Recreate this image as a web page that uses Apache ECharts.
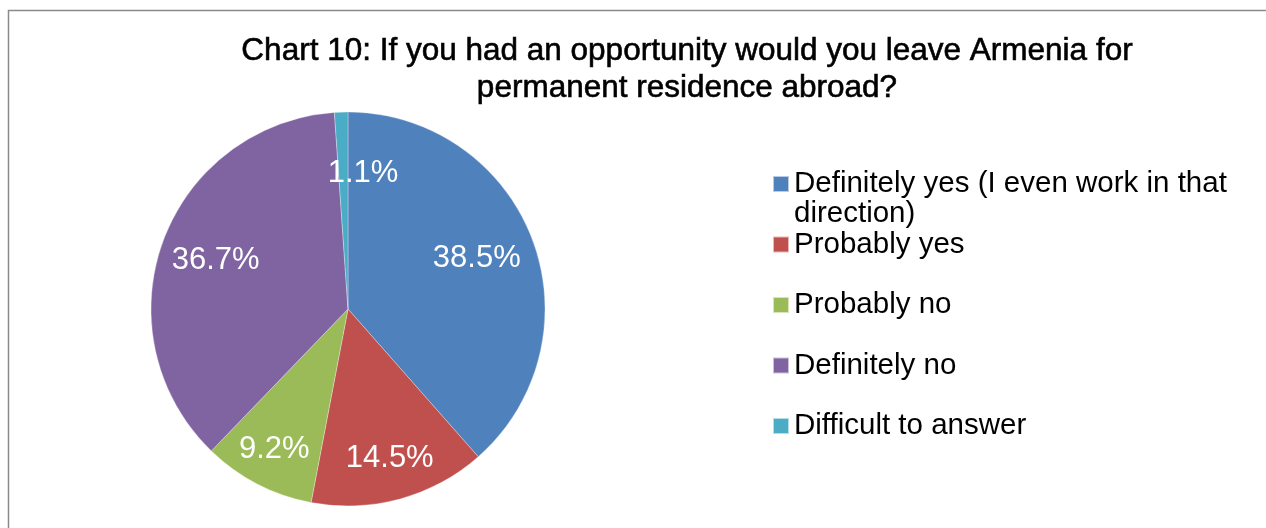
<!DOCTYPE html>
<html>
<head>
<meta charset="utf-8">
<script src="https://cdn.jsdelivr.net/npm/echarts@6/dist/echarts.min.js"></script>
<style>
  html, body { margin: 0; padding: 0; background: #fff; }
  #chart { width: 1266px; height: 528px; }
</style>
</head>
<body>
<div id="chart"></div>
<script>
// Survey answers and their shares (%)
const answers = [
  'Definitely yes (I even work in that direction)',
  'Probably yes',
  'Probably no',
  'Definitely no',
  'Difficult to answer'
];
const shares = [38.5, 14.5, 9.2, 36.7, 1.1];
const sliceColors = ['#4f81bd', '#c0504d', '#9bbb59', '#8064a2', '#4bacc6'];

// Small nudges so the percentage labels sit where they read best
const labelNudge = [[-5, 0], [4, 12], [-8, 13], [2, 0], [20, 7]];

const FONT = '"Liberation Sans", Arial, sans-serif';
const CENTER = [348, 309];
const R = 197;

const pieData = answers.map((name, i) => ({
  name: name,
  value: shares[i],
  itemStyle: { color: sliceColors[i] }
}));

// Transparent copy of the pie whose band centre sets the label radius
const labelData = answers.map((name, i) => ({
  name: name,
  value: shares[i],
  label: { offset: labelNudge[i] }
}));

const chart = echarts.init(document.getElementById('chart'), null, { renderer: 'canvas' });

chart.setOption({
  animation: false,
  backgroundColor: '#ffffff',
  title: {
    text: 'Chart 10: If you had an opportunity would you leave Armenia for\npermanent residence abroad?',
    left: 682,
    textAlign: 'center',
    top: 28,
    textStyle: {
      fontFamily: FONT,
      fontSize: 31.5,
      fontWeight: 'normal',
      color: '#000',
      textBorderColor: '#000',
      textBorderWidth: 0.6,
      lineHeight: 37
    }
  },
  legend: {
    orient: 'vertical',
    left: 767,
    top: 163,
    itemWidth: 16,
    itemHeight: 16,
    itemGap: 28.5,
    icon: 'rect',
    selectedMode: false,
    data: answers,
    formatter: function (name) {
      return name === answers[0] ? 'Definitely yes (I even work in that' : name;
    },
    textStyle: {
      fontFamily: FONT,
      fontSize: 29.5,
      color: '#000',
      lineHeight: 32
    }
  },
  graphic: [
    {
      type: 'rect',
      silent: true,
      shape: { x: 8.5, y: 10.5, width: 1400, height: 700 },
      style: { fill: 'none', stroke: '#8a8a8a', lineWidth: 1.5 }
    },
    {
      type: 'text',
      silent: true,
      x: 794,
      y: 214,
      style: {
        text: 'direction)',
        font: '29.5px ' + FONT,
        fill: '#000',
        verticalAlign: 'middle'
      }
    }
  ],
  series: [
    {
      type: 'pie',
      center: CENTER,
      radius: R,
      startAngle: 90,
      clockwise: true,
      silent: true,
      data: pieData,
      label: { show: false },
      labelLine: { show: false },
      itemStyle: { borderColor: 'rgba(255,255,255,0.6)', borderWidth: 0.5 }
    },
    {
      type: 'pie',
      center: CENTER,
      radius: [84, 196],
      startAngle: 90,
      clockwise: true,
      silent: true,
      data: labelData,
      itemStyle: { color: 'rgba(0,0,0,0)' },
      label: {
        show: true,
        position: 'inside',
        formatter: function (p) { return p.value.toFixed(1) + '%'; },
        fontFamily: FONT,
        fontSize: 31,
        color: '#fff'
      },
      labelLine: { show: false }
    }
  ]
});
</script>
</body>
</html>
